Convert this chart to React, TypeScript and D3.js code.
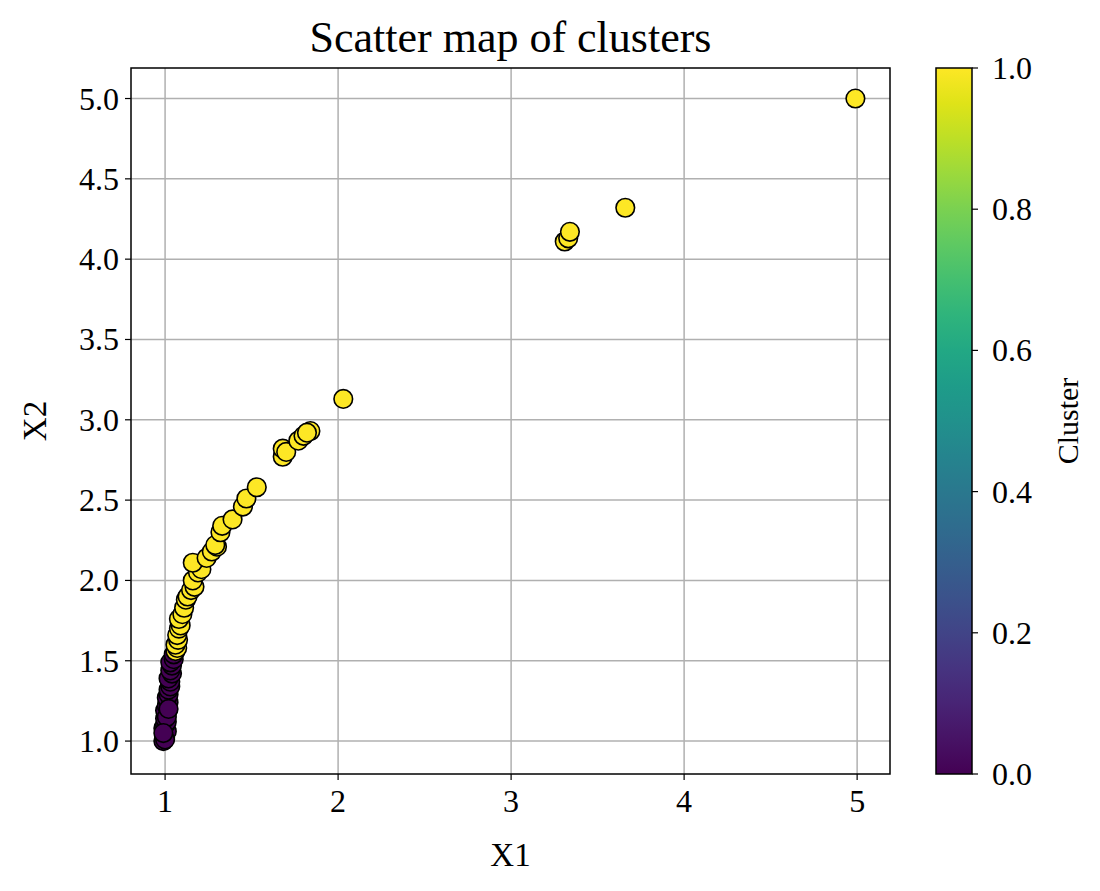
import React from "react";
import * as d3 from "d3";

// Cluster 0 (purple)
const cluster0X = [0.99, 1.0, 1.0, 1.01, 0.99, 1.0, 1.01, 1.0, 1.01, 1.0, 1.01, 1.02, 1.01, 1.02, 1.02, 1.03, 1.03, 1.02, 1.04, 1.03, 1.04, 1.03, 1.05, 1.05, 1.0, 1.01, 0.99, 1.02];
const cluster0Y = [1.0, 1.02, 1.04, 1.06, 1.08, 1.1, 1.12, 1.14, 1.17, 1.19, 1.22, 1.24, 1.27, 1.29, 1.32, 1.34, 1.37, 1.39, 1.42, 1.44, 1.47, 1.49, 1.51, 1.54, 1.01, 1.15, 1.05, 1.2];

// Cluster 1 (yellow)
const cluster1X = [1.06, 1.07, 1.06, 1.075, 1.07, 1.08, 1.09, 1.08, 1.1, 1.11, 1.12, 1.13, 1.15, 1.17, 1.16, 1.19, 1.21, 1.16, 1.24, 1.27, 1.3, 1.29, 1.32, 1.33, 1.39, 1.45, 1.47, 1.53, 1.68, 1.68, 1.7, 1.77, 1.8, 1.84, 1.82, 2.03, 3.31, 3.33, 3.34, 3.66, 4.99];
const cluster1Y = [1.56, 1.58, 1.6, 1.63, 1.66, 1.7, 1.72, 1.76, 1.79, 1.83, 1.88, 1.9, 1.94, 1.96, 2.0, 2.05, 2.07, 2.11, 2.14, 2.18, 2.21, 2.22, 2.3, 2.34, 2.38, 2.46, 2.51, 2.58, 2.77, 2.82, 2.8, 2.87, 2.9, 2.93, 2.92, 3.13, 4.11, 4.13, 4.17, 4.32, 5.0];

const xTicks = [1, 2, 3, 4, 5];
const yTicks = [1.0, 1.5, 2.0, 2.5, 3.0, 3.5, 4.0, 4.5, 5.0];
const cbTicks = [0.0, 0.2, 0.4, 0.6, 0.8, 1.0];

const FONT = "'Liberation Serif', 'Times New Roman', serif";

export default function App() {
  const left = 131, right = 890, top = 68, bottom = 774;
  const x = d3.scaleLinear().domain([0.803, 5.19]).range([left, right]);
  const y = d3.scaleLinear().domain([0.795, 5.19]).range([bottom, top]);
  const cbLeft = 936, cbRight = 972;
  const cb = d3.scaleLinear().domain([0, 1]).range([bottom, top]);
  const color = (v: number) => d3.interpolateViridis(v);

  const stops = d3.range(0, 1.0001, 0.05);
  const pts0 = cluster0X.map((v, i) => ({ x: v, y: cluster0Y[i], c: 0 }));
  const pts1 = cluster1X.map((v, i) => ({ x: v, y: cluster1Y[i], c: 1 }));
  const pts = [...pts0, ...pts1];

  return (
    <svg width={1100} height={891} style={{ position: "absolute", left: 0, top: 0, background: "#fff" }}>
      <defs>
        <linearGradient id="viridis" x1="0" y1="1" x2="0" y2="0">
          {stops.map((s) => (
            <stop key={s} offset={s} stopColor={color(s)} />
          ))}
        </linearGradient>
        <clipPath id="plotclip">
          <rect x={left} y={top} width={right - left} height={bottom - top} />
        </clipPath>
      </defs>
      <text x={(left + right) / 2} y={52} textAnchor="middle" fontFamily={FONT} fontSize={44} fill="#000">
        Scatter map of clusters
      </text>
      {/* grid */}
      {xTicks.map((t) => (
        <line key={"gx" + t} x1={x(t)} x2={x(t)} y1={top} y2={bottom} stroke="#b0b0b0" strokeWidth={1.5} />
      ))}
      {yTicks.map((t) => (
        <line key={"gy" + t} x1={left} x2={right} y1={y(t)} y2={y(t)} stroke="#b0b0b0" strokeWidth={1.5} />
      ))}
      {/* points */}
      <g clipPath="url(#plotclip)">
        {pts.map((p, i) => (
          <circle key={i} cx={x(p.x)} cy={y(p.y)} r={9.3} fill={color(p.c)} stroke="#000" strokeWidth={1.6} />
        ))}
      </g>
      {/* frame */}
      <rect x={left} y={top} width={right - left} height={bottom - top} fill="none" stroke="#000" strokeWidth={1.5} />
      {/* x ticks */}
      {xTicks.map((t) => (
        <g key={"xt" + t}>
          <line x1={x(t)} x2={x(t)} y1={bottom} y2={bottom + 6} stroke="#000" strokeWidth={1.2} />
          <text x={x(t)} y={bottom + 38} textAnchor="middle" fontFamily={FONT} fontSize={32} fill="#000">
            {d3.format("d")(t)}
          </text>
        </g>
      ))}
      {yTicks.map((t) => (
        <g key={"yt" + t}>
          <line x1={left - 6} x2={left} y1={y(t)} y2={y(t)} stroke="#000" strokeWidth={1.2} />
          <text x={left - 12} y={y(t) + 11} textAnchor="end" fontFamily={FONT} fontSize={32} fill="#000">
            {d3.format(".1f")(t)}
          </text>
        </g>
      ))}
      <text x={(left + right) / 2} y={866} textAnchor="middle" fontFamily={FONT} fontSize={33} fill="#000">
        X1
      </text>
      <text transform={`translate(46, ${(top + bottom) / 2}) rotate(-90)`} textAnchor="middle" fontFamily={FONT} fontSize={33} fill="#000">
        X2
      </text>
      {/* colorbar */}
      <rect x={cbLeft} y={top} width={cbRight - cbLeft} height={bottom - top} fill="url(#viridis)" stroke="#000" strokeWidth={1.5} />
      {cbTicks.map((t) => (
        <g key={"cb" + t}>
          <line x1={cbRight} x2={cbRight + 6} y1={cb(t)} y2={cb(t)} stroke="#000" strokeWidth={1.2} />
          <text x={cbRight + 20} y={cb(t) + 11} textAnchor="start" fontFamily={FONT} fontSize={32} fill="#000">
            {d3.format(".1f")(t)}
          </text>
        </g>
      ))}
      <text transform={`translate(1078, ${(top + bottom) / 2}) rotate(-90)`} textAnchor="middle" fontFamily={FONT} fontSize={30} fill="#000">
        Cluster
      </text>
    </svg>
  );
}
